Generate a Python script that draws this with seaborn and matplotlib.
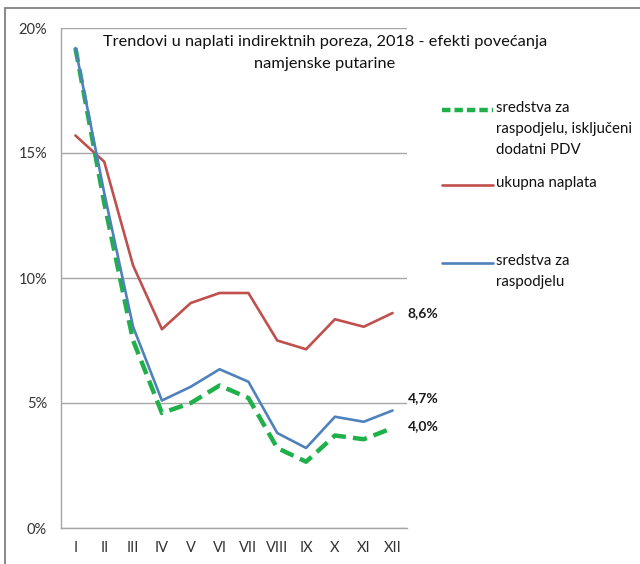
import matplotlib
matplotlib.use("Agg")
import matplotlib.pyplot as plt
from matplotlib.lines import Line2D
from matplotlib.patches import Rectangle
import pandas as pd
import seaborn as sns

# Data (share of indirect tax collection, %)
months = ["I", "II", "III", "IV", "V", "VI", "VII", "VIII", "IX", "X", "XI", "XII"]
ukupna = [15.7, 14.65, 10.5, 7.95, 9.0, 9.4, 9.4, 7.5, 7.15, 8.35, 8.05, 8.6]
raspodjela = [19.2, 13.4, 8.05, 5.1, 5.65, 6.35, 5.85, 3.8, 3.2, 4.45, 4.25, 4.7]
bez_pdv = [19.2, 13.0, 7.5, 4.6, 5.0, 5.7, 5.2, 3.2, 2.65, 3.7, 3.55, 4.0]
end_labels = ["8,6%", "4,7%", "4,0%"]

title = "Trendovi u naplati indirektnih poreza, 2018 - efekti povećanja\nnamjenske putarine"
names = ["sredstva za\nraspodjelu, isključeni\ndodatni PDV", "ukupna naplata", "sredstva za\nraspodjelu"]

GREEN = "#1fb04a"
RED = "#c0504d"
BLUE = "#4f81bd"
GRID = "#a6a6a6"

sns.set_style("white")
plt.rcParams["font.family"] = ["Lato", "DejaVu Sans"]

df = pd.DataFrame({"pos": range(len(months)), "ukupna": ukupna,
                   "raspodjela": raspodjela, "bez_pdv": bez_pdv})

fig = plt.figure(figsize=(6.4, 5.64), dpi=100)
ax = fig.add_axes([61 / 640, 36 / 564, 346 / 640, 500 / 564])

sns.lineplot(data=df, x="pos", y="ukupna", ax=ax, color=RED, linewidth=1.9, zorder=3)
sns.lineplot(data=df, x="pos", y="bez_pdv", ax=ax, color=GREEN, linewidth=3.2,
             dashes=False, zorder=3).lines[-1].set_dashes([3.2, 1.6])
sns.lineplot(data=df, x="pos", y="raspodjela", ax=ax, color=BLUE, linewidth=1.9, zorder=4)

ax.set_xlim(-0.5, len(months) - 0.5)
ax.set_ylim(0, 20)
ax.set_xlabel("")
ax.set_ylabel("")

ax.set_yticks([0, 5, 10, 15, 20])
ax.set_yticklabels(["0%", "5%", "10%", "15%", "20%"], fontsize=10.5, color="#333333")
ax.set_xticks(range(len(months)))
ax.set_xticklabels(months, fontsize=10.5, color="#333333")
ax.set_xticks([i - 0.5 for i in range(len(months) + 1)], minor=True)
ax.tick_params(axis="x", which="major", length=0, pad=9)
ax.tick_params(axis="x", which="minor", length=5, color=GRID, width=1)
ax.tick_params(axis="y", length=4, color=GRID, width=1, pad=6)

ax.grid(axis="y", color=GRID, linewidth=1)
ax.set_axisbelow(True)
for side in ["top", "right"]:
    ax.spines[side].set_visible(False)
for side in ["left", "bottom"]:
    ax.spines[side].set_color(GRID)
    ax.spines[side].set_linewidth(1)

# end-of-line value labels
last = len(months) - 1
for val, lab, dy in zip([ukupna[-1], raspodjela[-1], bez_pdv[-1]], end_labels, [0, 12, 2]):
    ax.annotate(lab, (last, val), xytext=(15, dy), textcoords="offset pixels",
                fontsize=10, fontweight="bold", color="#1a1a1a", va="center", ha="left",
                annotation_clip=False)

fig.text(325 / 640, 1 - 53 / 564, title, ha="center", va="center", fontsize=11.8,
         color="#111111", linespacing=1.75)

# legend drawn by hand to keep the original irregular spacing
entries = [(GREEN, 3.2, (0, (1.9, 0.9)), 110, names[0]),
           (RED, 1.9, "-", 185, names[1]),
           (BLUE, 1.9, "-", 263, names[2])]
for col, lw, ls, ypix, lab in entries:
    yy = 1 - ypix / 564
    fig.add_artist(Line2D([442 / 640, 493 / 640], [yy, yy], color=col, lw=lw, linestyle=ls,
                          transform=fig.transFigure))
    fig.text(496 / 640, yy + 9 / 564, lab, ha="left", va="top", fontsize=10.8,
             color="#111111", linespacing=1.65)

# chart-area frame
fig.add_artist(Rectangle((5 / 640, -0.1), 1.2, 1 - 8 / 564 + 0.1, transform=fig.transFigure,
                         fill=False, edgecolor="#7f7f7f", linewidth=1.3))

fig.savefig("out.png", dpi=100)
